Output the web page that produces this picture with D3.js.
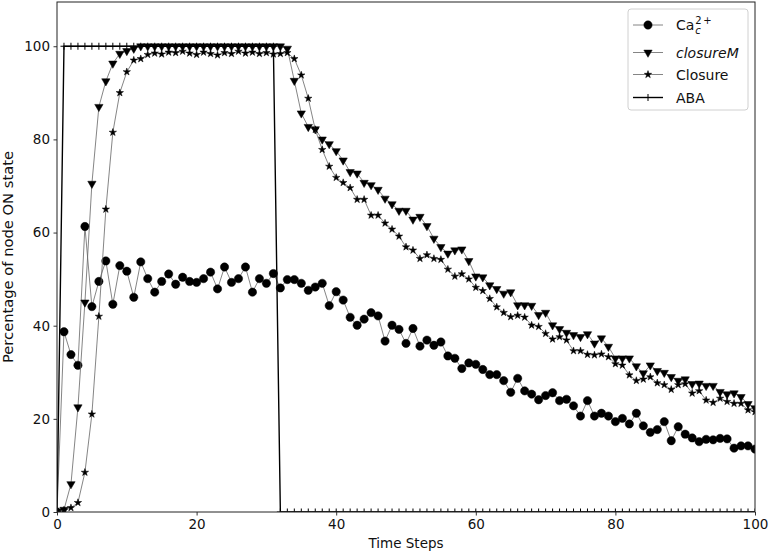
<!DOCTYPE html>
<html>
<head>
<meta charset="utf-8">
<script src="https://cdn.jsdelivr.net/npm/d3@7/dist/d3.min.js"></script>
<style>
  body { margin: 0; background: #fff; }
  svg text { font-family: "DejaVu Sans", sans-serif; fill: #111; }
</style>
</head>
<body>
<div id="chart"></div>
<script>
// Width and height
var chart_width  = 770;
var chart_height = 555;

// Data (time steps 0..100)
var steps = d3.range(0, 101);

var ca_values = [
    0, 38.7, 33.8, 31.5, 61.3, 44.1, 49.5, 53.9, 44.6, 52.9,
    51.7, 46.1, 53.7, 50.1, 47.2, 49.5, 51.1, 48.9, 50.4, 49.5,
    49.3, 50.1, 51.5, 47.9, 52.6, 49.3, 50.1, 52.6, 47.2, 50.1,
    49.1, 51.2, 48.1, 49.9, 49.9, 49.1, 47.6, 48.3, 49.1, 44.3,
    47.3, 45.5, 41.8, 40.1, 41.4, 42.8, 42.1, 36.7, 40.1, 39.2,
    36.2, 39.4, 35.6, 36.9, 35.8, 36.5, 33.5, 33.0, 30.8, 32.0,
    31.7, 30.6, 29.5, 29.5, 28.2, 25.7, 28.7, 26.0, 25.3, 24.1,
    25.0, 25.6, 23.9, 24.2, 22.8, 20.6, 23.9, 20.6, 21.2, 20.6,
    19.4, 20.1, 18.9, 21.2, 18.5, 17.1, 17.7, 19.4, 15.3, 18.3,
    16.7, 15.9, 15.1, 15.6, 15.5, 15.8, 15.7, 13.7, 14.2, 14.2,
    13.5
];

var closureM_values = [
    0, 0.5, 6, 22.5, 45, 70.5, 87, 92.5, 96.3, 98.4,
    99, 99.5, 100, 100, 100, 100, 100, 100, 100, 100,
    100, 100, 100, 100, 100, 100, 100, 100, 100, 100,
    100, 100, 100, 99.5, 92.6, 85.6, 82.7, 82.2, 80.0, 79.0,
    77.5, 75.5, 73.0, 72.7, 70.7, 70.2, 69.2, 67.3, 66.1, 64.7,
    64.7, 62.8, 63.4, 61.4, 58.7, 56.9, 55.5, 56.2, 56.4, 53.9,
    50.6, 50.4, 48.7, 47.9, 46.9, 47.2, 44.4, 44.4, 44.3, 42.3,
    42.8, 40.1, 39.3, 38.5, 38.0, 37.6, 38.2, 36.2, 37.3, 35.5,
    33.0, 33.0, 33.0, 31.3, 29.8, 31.5, 30.3, 29.9, 29.0, 28.2,
    28.5, 27.5, 27.6, 27.1, 27.1, 25.8, 25.3, 25.5, 24.7, 23.2,
    22.3
];

var closure_values = [
    0, 0.4, 0.9, 2, 8.5, 21, 42, 65, 81.5, 90,
    94.5, 97, 97.3, 98.2, 98.5, 98.3, 98.7, 98.6, 98.9, 98.5,
    98.2, 98.7, 98.4, 98.1, 98.6, 98.4, 98.9, 98.5, 98.7, 98.4,
    98.6, 98.3, 98.4, 98.6, 97.3, 93.8, 88.8, 82.1, 77.8, 74.2,
    71.8, 70.7, 69.6, 67.1, 67.1, 63.7, 63.7, 62.0, 60.7, 59.2,
    56.9, 56.2, 54.4, 55.2, 54.4, 54.2, 52.1, 50.6, 51.1, 50.0,
    48.2, 47.5, 45.8, 44.0, 42.8, 41.9, 42.2, 41.8, 40.1, 39.8,
    38.3, 37.1, 37.6, 36.9, 34.6, 34.6, 33.8, 33.7, 33.9, 33.3,
    31.8, 31.5, 29.4, 28.2, 28.5, 29.0, 27.7, 27.3, 26.3, 27.3,
    27.5, 25.5, 26.0, 24.0, 23.5, 24.4, 23.7, 23.3, 23.3, 21.9,
    21.5
];

var aba_values = [
    0, 100, 100, 100, 100, 100, 100, 100, 100, 100,
    100, 100, 100, 100, 100, 100, 100, 100, 100, 100,
    100, 100, 100, 100, 100, 100, 100, 100, 100, 100,
    100, 100, 0, 0, 0, 0, 0, 0, 0, 0,
    0, 0, 0, 0, 0, 0, 0, 0, 0, 0,
    0, 0, 0, 0, 0, 0, 0, 0, 0, 0,
    0, 0, 0, 0, 0, 0, 0, 0, 0, 0,
    0, 0, 0, 0, 0, 0, 0, 0, 0, 0,
    0, 0, 0, 0, 0, 0, 0, 0, 0, 0,
    0, 0, 0, 0, 0, 0, 0, 0, 0, 0,
    0
];

var x_ticks = [0, 20, 40, 60, 80, 100];
var y_ticks = [0, 20, 40, 60, 80, 100];

var series = [
    {name: 'Ca', values: ca_values, marker: 'circle'},
    {name: 'closureM', values: closureM_values, marker: 'tri'},
    {name: 'Closure', values: closure_values, marker: 'star'},
    {name: 'ABA', values: aba_values, marker: 'plus'}
];

// plot area
var plot_left = 57, plot_right = 755, plot_top = 2, plot_bottom = 512;

var x = d3.scaleLinear().domain([0, 100]).range([plot_left, plot_right]);
var y = d3.scaleLinear().domain([0, 109.5]).range([plot_bottom, plot_top]);

// Create SVG
var svg = d3.select("#chart")
    .append("svg")
    .attr("width", chart_width)
    .attr("height", chart_height);

svg.append('defs').append('clipPath').attr('id', 'plot-clip')
    .append('rect')
    .attr('x', plot_left).attr('y', plot_top)
    .attr('width', plot_right - plot_left).attr('height', plot_bottom - plot_top);

function markerPath(kind){
    if(kind === 'circle') return d3.symbol(d3.symbolCircle, 54)();
    if(kind === 'tri') return d3.symbol(d3.symbolTriangle, 30)();
    if(kind === 'star') return d3.symbol(d3.symbolStar, 17)();
    return 'M0,-3.5V3.5M-3.5,0H3.5';
}

function drawMarker(g, kind, px, py){
    var m = g.append('path')
        .attr('d', markerPath(kind))
        .attr('transform', 'translate(' + px + ',' + py + ')' + (kind === 'tri' ? ' rotate(180)' : ''));
    if(kind === 'plus'){
        m.attr('fill', 'none').attr('stroke', '#000').attr('stroke-width', 1);
    } else {
        m.attr('fill', '#000').attr('stroke', '#000').attr('stroke-width', 0.5);
    }
}

var plot = svg.append('g').attr('clip-path', 'url(#plot-clip)');

var line = d3.line()
    .x(function(d, i){ return x(steps[i]); })
    .y(function(d){ return y(d); });

series.forEach(function(s){
    var g = plot.append('g');
    g.append('path')
        .datum(s.values)
        .attr('d', line)
        .attr('fill', 'none')
        .attr('stroke', s.marker === 'plus' ? '#000' : '#666')
        .attr('stroke-width', s.marker === 'plus' ? 1.4 : 0.8);
    s.values.forEach(function(v, i){
        drawMarker(g, s.marker, x(steps[i]), y(v));
    });
});

// axes
svg.append('g')
    .attr('transform', 'translate(0,' + plot_bottom + ')')
    .call(d3.axisBottom(x).tickValues(x_ticks).tickSize(3.5).tickPadding(3.5).tickFormat(d3.format('d')))
    .call(function(g){ g.select('.domain').remove(); })
    .selectAll('text').attr('font-size', '13.5px').attr('font-family', 'DejaVu Sans');

svg.append('g')
    .attr('transform', 'translate(' + plot_left + ',0)')
    .call(d3.axisLeft(y).tickValues(y_ticks).tickSize(3.5).tickPadding(3.5).tickFormat(d3.format('d')))
    .call(function(g){ g.select('.domain').remove(); })
    .selectAll('text').attr('font-size', '13.5px').attr('font-family', 'DejaVu Sans');

svg.selectAll('.tick line').attr('stroke', '#000').attr('stroke-width', 0.8);

// frame
svg.append('rect')
    .attr('x', plot_left).attr('y', plot_top)
    .attr('width', plot_right - plot_left).attr('height', plot_bottom - plot_top)
    .attr('fill', 'none')
    .attr('stroke', '#222')
    .attr('stroke-width', 1);

// axis labels
svg.append('text')
    .attr('x', (plot_left + plot_right) / 2)
    .attr('y', 548)
    .attr('text-anchor', 'middle')
    .attr('font-size', '13.5px')
    .text('Time Steps');

svg.append('text')
    .attr('transform', 'translate(13,' + ((plot_top + plot_bottom) / 2) + ') scale(1,1.09) rotate(-90)')
    .attr('text-anchor', 'middle')
    .attr('font-size', '13.5px')
    .text('Percentage of node ON state');

// legend
var legend = svg.append('g');
legend.append('rect')
    .attr('x', 628).attr('y', 9)
    .attr('width', 120).attr('height', 101)
    .attr('rx', 3)
    .attr('fill', '#fff')
    .attr('fill-opacity', 0.8)
    .attr('stroke', '#d0d0d0')
    .attr('stroke-width', 1);

var legend_rows = [25, 52.5, 74.5, 97.5];
series.forEach(function(s, i){
    var cy = legend_rows[i];
    legend.append('line')
        .attr('x1', 633).attr('x2', 663)
        .attr('y1', cy).attr('y2', cy)
        .attr('stroke', s.marker === 'plus' ? '#000' : '#666')
        .attr('stroke-width', s.marker === 'plus' ? 1.4 : 0.8);
    drawMarker(legend, s.marker, 648, cy);
});

// Ca_c^{2+}
var ca_text = legend.append('text')
    .attr('x', 676).attr('y', legend_rows[0] + 5)
    .attr('font-size', '14px')
    .text('Ca');
var ca_w = ca_text.node().getComputedTextLength();
legend.append('text')
    .attr('x', 676 + ca_w + 1).attr('y', legend_rows[0] - 1)
    .attr('font-size', '10px')
    .text('2');
legend.append('text')
    .attr('x', 676 + ca_w + 9).attr('y', legend_rows[0] - 1)
    .attr('font-size', '10px')
    .text('+');
legend.append('text')
    .attr('x', 676 + ca_w + 1).attr('y', legend_rows[0] + 9)
    .attr('font-size', '10px')
    .attr('font-style', 'italic')
    .text('c');

legend.append('text')
    .attr('x', 676).attr('y', legend_rows[1] + 5)
    .attr('font-size', '14px')
    .attr('font-style', 'italic')
    .text('closureM');

legend.append('text')
    .attr('x', 676).attr('y', legend_rows[2] + 5)
    .attr('font-size', '14px')
    .text('Closure');

legend.append('text')
    .attr('x', 676).attr('y', legend_rows[3] + 5)
    .attr('font-size', '14px')
    .text('ABA');
</script>
</body>
</html>
